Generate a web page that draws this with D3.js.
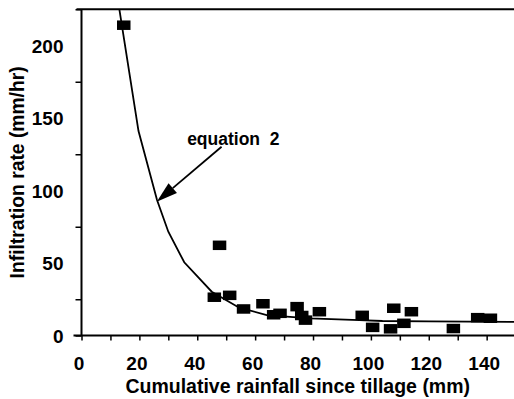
<!DOCTYPE html>
<html>
<head>
<meta charset="utf-8">
<script src="https://cdn.jsdelivr.net/npm/d3@7"></script>
<style>
  html, body { margin: 0; padding: 0; background: #fff; }
  svg { display: block; }
  text { font-family: "Liberation Sans", Arial, sans-serif; font-weight: bold; fill: #000; }
</style>
</head>
<body>
<svg id="chart" width="514" height="399"></svg>
<script>
// ---- data ----
const rainfall = [14.6, 45.9, 47.7, 51.2, 56, 62.7, 66.4, 68.6, 74.5, 76.1, 77.4, 82.2, 97, 100.6, 106.8, 107.9, 111.4, 114, 128.5, 136.9, 141.3];
const infiltration = [214, 26.4, 62.2, 27.7, 18.3, 21.9, 14.3, 15.3, 19.9, 13.8, 10.6, 16.4, 13.9, 5.6, 4.6, 18.8, 8.4, 16.4, 4.8, 12.3, 11.9];
const curveX = [13, 19.7, 26.1, 30, 35.5, 45, 54.5, 64, 79, 96, 104, 120, 150];
const curveY = [226, 141, 93.4, 71.6, 50.5, 30.2, 19.2, 14.1, 11.8, 10.6, 10.0, 9.7, 9.4];
const xTickValues = [0, 20, 40, 60, 80, 100, 120, 140];
const xMinorTicks = [0, 10, 20, 30, 40, 50, 60, 70, 80, 90, 100, 110, 120, 130, 140, 150];
const yTickValues = [0, 50, 100, 150, 200];
const yMinorTicks = [0, 25, 75, 125, 175, 225];
const xTitle = "Cumulative rainfall since tillage (mm)";
const yTitle = "Infiltration rate (mm/hr)";
const annotationText = "equation\u00a0\u00a02";
const annotationTextAt = [36.5, 131.4];
const arrowFrom = [48.4, 130.2];
const arrowTo = [26, 92.3];

(function () {
// ---- layout ----
const svg = d3.select("#chart");
const pL = 81.5, pR = 515.6, pT = 9.25, pB = 335.5;
const x = d3.scaleLinear().domain([0, 150]).range([pL, pR]);
const y = d3.scaleLinear().domain([0, 225]).range([pB, pT]);

svg.append("defs").append("clipPath").attr("id", "plotclip")
  .append("rect").attr("x", pL).attr("y", pT).attr("width", 514 - pL).attr("height", pB - pT);

// y ticks (lines only)
svg.append("g").attr("transform", `translate(${pL},0)`)
  .call(d3.axisLeft(y).tickValues(yMinorTicks).tickSize(6).tickFormat(""))
  .call(g => g.select(".domain").remove())
  .call(g => g.selectAll("line").attr("stroke", "#000").attr("stroke-width", 1.5));
// y labels
svg.append("g").attr("transform", `translate(${pL},0)`)
  .call(d3.axisLeft(y).tickValues(yTickValues).tickSize(0).tickPadding(18))
  .call(g => g.select(".domain").remove())
  .call(g => g.selectAll("text").style("font-size", "19px").attr("dy", "0.36em"));

// x ticks (lines only)
svg.append("g").attr("transform", `translate(0,${pB})`)
  .call(d3.axisBottom(x).tickValues(xMinorTicks).tickSize(5).tickFormat(""))
  .call(g => g.select(".domain").remove())
  .call(g => g.selectAll("line").attr("stroke", "#000").attr("stroke-width", 1.5));
// x labels
svg.append("g").attr("transform", `translate(0,${pB})`)
  .call(d3.axisBottom(x).tickValues(xTickValues).tickSize(0).tickPadding(21))
  .call(g => g.select(".domain").remove())
  .call(g => g.selectAll("text").style("font-size", "19px").attr("dx", "-3").attr("dy", "0.71em"));

// axis lines / frame
svg.append("line").attr("x1", pL - 8).attr("x2", 514).attr("y1", pB).attr("y2", pB)
  .attr("stroke", "#000").attr("stroke-width", 2);
svg.append("line").attr("x1", pL).attr("x2", pL).attr("y1", pT).attr("y2", pB)
  .attr("stroke", "#000").attr("stroke-width", 2);
svg.append("line").attr("x1", pL - 5).attr("x2", 514).attr("y1", pT).attr("y2", pT)
  .attr("stroke", "#000").attr("stroke-width", 2);

// curve
const curve = curveX.map((d, i) => [d, curveY[i]]);
svg.append("path").datum(curve)
  .attr("clip-path", "url(#plotclip)")
  .attr("fill", "none").attr("stroke", "#000").attr("stroke-width", 1.8)
  .attr("d", d3.line().x(d => x(d[0])).y(d => y(d[1])));

// points
const pts = rainfall.map((d, i) => [d, infiltration[i]]);
const sw = 13.5, sh = 9.5;
svg.append("g").selectAll("rect").data(pts).join("rect")
  .attr("x", d => x(d[0]) - sw / 2).attr("y", d => y(d[1]) - sh / 2)
  .attr("width", sw).attr("height", sh).attr("fill", "#000");

// annotation
svg.append("text").attr("x", x(annotationTextAt[0])).attr("y", y(annotationTextAt[1]))
  .style("font-size", "17.5px").text(annotationText);
const ax0 = x(arrowFrom[0]), ay0 = y(arrowFrom[1]), ax1 = x(arrowTo[0]), ay1 = y(arrowTo[1]);
const len = Math.hypot(ax1 - ax0, ay1 - ay0);
const ux = (ax1 - ax0) / len, uy = (ay1 - ay0) / len;
const headL = 21, headW = 6.5;
const bx = ax1 - ux * headL, by = ay1 - uy * headL;
svg.append("line").attr("x1", ax0).attr("y1", ay0).attr("x2", bx).attr("y2", by)
  .attr("stroke", "#000").attr("stroke-width", 1.8);
svg.append("polygon")
  .attr("points", [[ax1, ay1], [bx - uy * headW, by + ux * headW], [bx + uy * headW, by - ux * headW]].map(p => p.join(",")).join(" "))
  .attr("fill", "#000");

// titles
svg.append("text").attr("x", (pL + 514) / 2).attr("y", 393.3).attr("text-anchor", "middle")
  .style("font-size", "19.5px").text(xTitle);
svg.append("text").attr("transform", `translate(23.5,${(pT + pB) / 2}) rotate(-90)`)
  .attr("text-anchor", "middle").style("font-size", "19.3px").text(yTitle);
})();
</script>
</body>
</html>
